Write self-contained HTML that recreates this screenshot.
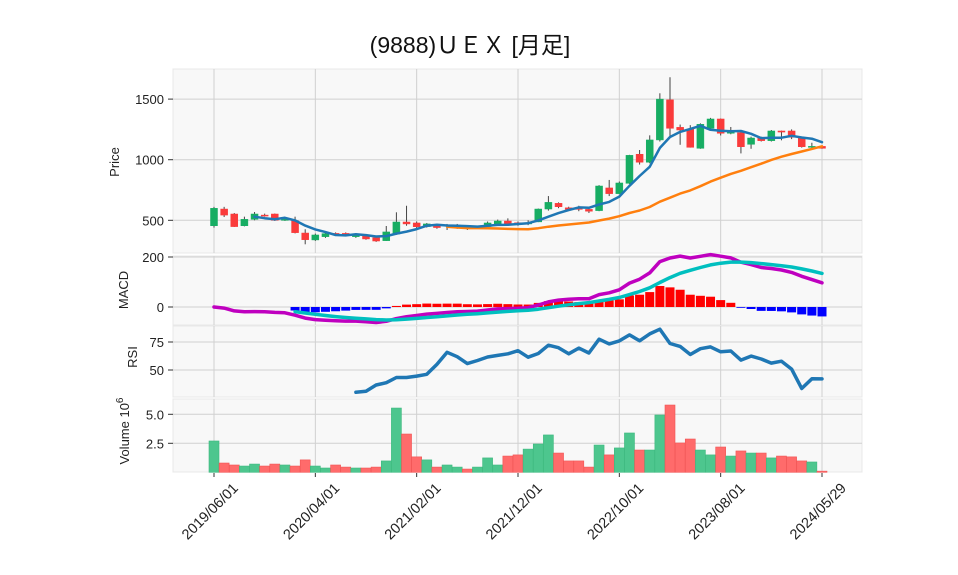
<!DOCTYPE html>
<html><head><meta charset="utf-8"><style>
body{margin:0;background:#fff;}
svg{display:block;font-family:"Liberation Sans","Noto Sans CJK JP",sans-serif;}
</style></head><body>
<svg id="chart" width="958" height="575" viewBox="0 0 958 575"></svg>
<script>
const months = [];
(function(){let y=2019,m=6;for(let i=0;i<61;i++){months.push(y+'/'+String(m).padStart(2,'0'));m++;if(m>12){m=1;y++;}}})();
const opens  = [455,593,552,455,508,543,552,500,497,395,338,365,392,392,365,373,357,332,387,486,478,448,464,455,440,448,445,448,464,494,480,470,487,593,640,603,603,590,580,767,720,805,1045,979,1163,1494,1267,1251,1094,1259,1336,1218,1223,1127,1179,1157,1237,1237,1179,1108,1110];
const closes = [599,543,448,508,552,536,500,508,398,340,379,390,385,385,385,346,329,404,486,470,447,470,440,460,460,431,448,478,494,464,464,480,593,648,612,590,590,575,783,720,808,1036,979,1163,1500,1259,1245,1102,1292,1336,1218,1229,1107,1179,1157,1237,1228,1185,1107,1110,1094];
const highs  = [611,611,560,530,568,555,556,520,530,426,390,400,400,400,392,378,362,453,566,620,490,478,470,470,470,455,452,490,506,516,490,500,597,700,648,612,620,600,790,833,820,1040,1080,1201,1548,1680,1290,1285,1300,1345,1340,1270,1240,1190,1190,1245,1240,1250,1185,1140,1115];
const lows   = [440,527,445,450,500,530,495,495,392,302,330,355,380,375,355,340,322,330,380,455,430,440,430,420,430,420,440,440,455,455,455,460,485,580,600,580,575,560,575,700,715,800,960,970,1150,1196,1123,1100,1090,1250,1200,1210,1052,1090,1150,1150,1160,1170,1100,1090,1090];
const volumes = [2.70,0.80,0.63,0.54,0.71,0.54,0.71,0.63,0.54,1.07,0.54,0.37,0.63,0.45,0.37,0.37,0.45,0.98,5.54,3.30,1.33,1.07,0.45,0.63,0.45,0.28,0.45,1.24,0.63,1.40,1.50,2.00,2.44,3.22,1.66,0.98,0.98,0.45,2.35,1.50,2.10,3.39,1.92,1.92,4.94,5.80,2.53,2.87,1.92,1.50,2.18,1.40,1.84,1.66,1.66,1.24,1.40,1.33,0.98,0.89,0.10];
const priceTicks = [500,1000,1500];
const macdTicks = [0,200];
const rsiTicks = [50,75];
const volTicks = [2.5,5.0];
const dateTicks = ['2019/06/01','2020/04/01','2021/02/01','2021/12/01','2022/10/01','2023/08/01','2024/05/29'];
const dateTickIdx = [0,10,20,30,40,50,60];

const NS='http://www.w3.org/2000/svg';
const svg=document.getElementById('chart');
function mk(tag,attrs,parent){const e=document.createElementNS(NS,tag);for(const k in attrs)e.setAttribute(k,attrs[k]);(parent||svg).appendChild(e);return e;}
const L=173,R=862;
const X=i=>214+i*(822-214)/60;
const Yp=p=>220.3-(p-500)*(60.6/500);
const Ym=v=>307-v*0.25;
const Yr=v=>342+(75-v)*1.12;
const Yv=v=>472.3-v*11.6;
const panels=[[69,253,'price-panel'],[256,325,'macd-panel'],[326,397,'rsi-panel'],[399,472,'volume-panel']];
panels.forEach(p=>{const r=mk('rect',{x:L,y:p[0],width:R-L,height:p[1]-p[0],fill:'#f8f8f8',stroke:'#e8e8e8'});

});
dateTickIdx.forEach(i=>{panels.forEach(p=>{mk('line',{x1:X(i),x2:X(i),y1:p[0],y2:p[1],stroke:'#d0d0d0','stroke-width':1});});});
function hgrid(y,label,name){mk('line',{x1:L,x2:R,y1:y,y2:y,stroke:'#d0d0d0','stroke-width':1});
mk('line',{x1:L-5,x2:L,y1:y,y2:y,stroke:'#333'});
const t=mk('text',{x:L-9,y:y+5,'text-anchor':'end','font-size':13,fill:'#222'});t.textContent=label;

}
priceTicks.forEach(v=>hgrid(Yp(v),String(v),'price-tick-label'));
macdTicks.forEach(v=>hgrid(Ym(v),String(v),'macd-tick-label'));
rsiTicks.forEach(v=>hgrid(Yr(v),String(v),'rsi-tick-label'));
volTicks.forEach(v=>hgrid(Yv(v),v.toFixed(1),'volume-tick-label'));
function sma(a,n){return a.map((_,i)=>i<n-1?null:a.slice(i-n+1,i+1).reduce((s,v)=>s+v,0)/n);}
function ema(a,n){const k=2/(n+1);let out=[];a.forEach((v,i)=>{out.push(i===0?v:out[i-1]+k*(v-out[i-1]));});return out;}
const ma5=sma(closes,5), ma24=sma(closes,24);
const e12=ema(closes,12), e26=ema(closes,26);
const macd=e12.map((v,i)=>v-e26[i]);
const sigAll=ema(macd,9);
const rsi=closes.map((c,i)=>{if(i<14)return null;let g=0,l=0;for(let j=i-13;j<=i;j++){const d=closes[j]-closes[j-1];if(d>0)g+=d;else l-=d;}return l===0?100:100-100/(1+g/l);});
function poly(vals,yf,color,w,name,start){let pts=[];vals.forEach((v,i)=>{if(v!==null&&i>=(start||0))pts.push(X(i).toFixed(1)+','+yf(v).toFixed(1));});
const p=mk('polyline',{points:pts.join(' '),fill:'none',stroke:color,'stroke-width':w,'stroke-linejoin':'round','stroke-linecap':'round'});

}
closes.forEach((c,i)=>{const o=opens[i],up=c>=o,col=up?'#17ad63':'#fa3b3b';
const g=mk('g',{});


mk('line',{x1:X(i),x2:X(i),y1:Yp(highs[i]),y2:Yp(lows[i]),stroke:'#444','stroke-width':1},g);
const t=Yp(Math.max(o,c)),b=Yp(Math.min(o,c));
mk('rect',{x:X(i)-3.5,y:t,width:7,height:Math.max(1,b-t),fill:col,stroke:col,'stroke-width':0.5},g);});
poly(ma24,Yp,'#ff7f0e',2.5,'ma-24-line');
poly(ma5,Yp,'#1f77b4',2.5,'ma-5-line');
macd.forEach((m,i)=>{if(i<8)return;const h=m-sigAll[i];const y0=Ym(0),y1=Ym(h);
const r=mk('rect',{x:X(i)-4.5,y:Math.min(y0,y1),width:9,height:Math.max(0.8,Math.abs(y1-y0)),fill:h>=0?'#ff0000':'#0000ff'});

});
poly(macd,Ym,'#bf00bf',3.5,'macd-line');
poly(sigAll,Ym,'#00bfbf',3.5,'signal-line',8);
poly(rsi,Yr,'#1f77b4',3.5,'rsi-line');
volumes.forEach((v,i)=>{const up=closes[i]>=opens[i];
const r=mk('rect',{x:X(i)-5,y:Yv(v),width:10,height:Yv(0)-Yv(v),fill:up?'#4dc68e':'#ff6b6b',stroke:up?'#3cb87e':'#f05454','stroke-width':0.6});

});
dateTickIdx.forEach((i,k)=>{mk('line',{x1:X(i),x2:X(i),y1:473,y2:477,stroke:'#333'});
const ax=X(i)+25, ay=489;
const t=mk('text',{x:ax,y:ay,'text-anchor':'end','font-size':14.5,fill:'#222',transform:`rotate(-45 ${ax} ${ay})`});t.textContent=dateTicks[k];

});
function lab(txt,x,y,name,size){const t=mk('text',{x:x,y:y,'text-anchor':'middle','font-size':size||13,fill:'#222',transform:`rotate(-90 ${x} ${y})`});t.textContent=txt;

return t;}
lab('Price',119,162,'price-axis-title');
lab('MACD',128,290,'macd-axis-title');
lab('RSI',137,357,'rsi-axis-title');
const vt=lab('Volume  10',129,431,'volume-axis-title');
const sup=mk('tspan',{dy:-6,'font-size':10});sup.textContent='6';vt.appendChild(sup);
const title=mk('text',{x:470,y:53,'text-anchor':'middle','font-size':23,fill:'#111'});
title.textContent='(9888)ＵＥＸ [月足]';


</script>
</body></html>
